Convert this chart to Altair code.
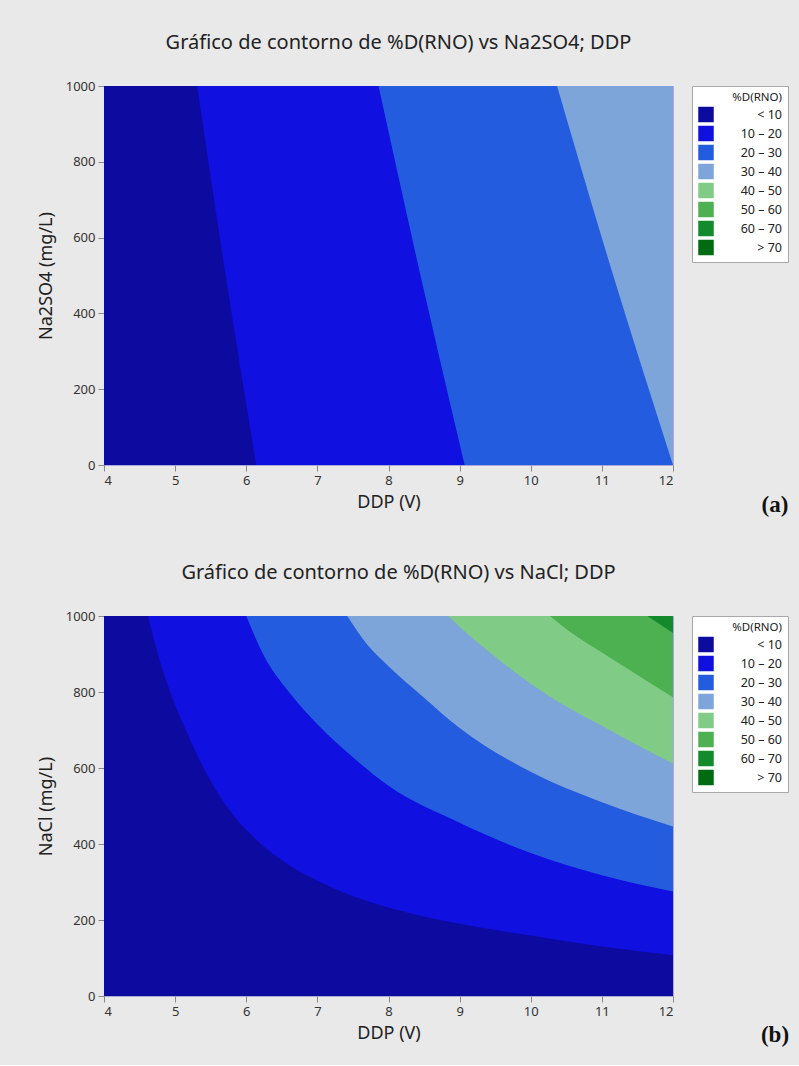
import altair as alt
import pandas as pd

BANDS = ["< 10", "10 – 20", "20 – 30", "30 – 40", "40 – 50", "50 – 60", "60 – 70", "> 70"]
COLORS = ["#0D0B9F", "#1010E0", "#245CE0", "#7EA5D9", "#80CC87", "#4DB051", "#138B2D", "#016B14"]

X_TICKS = [4, 5, 6, 7, 8, 9, 10, 11, 12]
Y_TICKS = [0, 200, 400, 600, 800, 1000]
X_DOMAIN = [4, 12]
Y_DOMAIN = [0, 1000]

# (a) contour boundaries: DDP (x) at given Na2SO4 (y)
A_Y = [0, 500, 1000]
A_B10 = [6.14, 5.71, 5.31]
A_B20 = [9.07, 8.45, 7.86]
A_B30 = [12.0, 11.16, 10.37]

# (b) contour boundaries: NaCl (y) at given DDP (x)
B10_X = [4.62, 4.75, 4.93, 5.15, 5.40, 5.72, 6.15, 6.6, 7.12, 8.05, 9, 10, 11, 12]
B10_Y = [1000, 905, 800, 700, 600, 500, 410, 345, 293, 230, 190, 159, 130, 107]
B20_X = [6.0, 6.25, 6.6, 7.0, 7.5, 8.0, 9, 10, 11, 12]
B20_Y = [1000, 895, 800, 715, 628, 553, 456, 376, 318, 275]
B30_X = [7.42, 7.7, 8.0, 8.5, 9, 10, 11, 12]
B30_Y = [1000, 925, 868, 785, 705, 590, 510, 446]
B40_X = [8.84, 9.0, 9.5, 10, 10.5, 11, 11.5, 12]
B40_Y = [1000, 972, 893, 822, 762, 711, 660, 612]
B50_X = [10.27, 10.6, 11, 11.5, 12]
B50_Y = [1000, 952, 904, 845, 786]
B60_X = [11.64, 12]
B60_Y = [1000, 955]

FONT = "Noto Sans"
PW, PH = 569, 380

color_scale = alt.Scale(domain=BANDS, range=COLORS)


def legend():
    return alt.Legend(
        title="%D(RNO)\u2007", titleFontSize=11.5, titleFont=FONT, titleFontWeight="normal",
        titleColor="#222222", titleAlign="right", titleAnchor="end", titlePadding=3,
        labelFont=FONT, labelFontSize=12.5, labelColor="#222222", labelAlign="right",
        labelExpr="datum.label + '\u2007'",
        labelOffset=68, symbolType="square", symbolSize=240, symbolStrokeWidth=0,
        symbolOpacity=1, fillColor="white", strokeColor="#A8A8A8", padding=6,
        rowPadding=3, offset=19, orient="right",
    )


def xenc(field="x"):
    return alt.X(f"{field}:Q", stack=None,
                 scale=alt.Scale(domain=X_DOMAIN, nice=False, zero=False),
                 axis=alt.Axis(values=X_TICKS, format="d", title="DDP (V)"))


def yenc(title, field="y"):
    return alt.Y(f"{field}:Q", stack=None,
                 scale=alt.Scale(domain=Y_DOMAIN, nice=False),
                 axis=alt.Axis(values=Y_TICKS, format="d", title=title))


def cenc():
    return alt.Color("band:N", scale=color_scale, legend=legend())


def base_rect(ytitle):
    df = pd.DataFrame({"x": [X_DOMAIN[0]], "x2": [X_DOMAIN[1]], "y": [Y_DOMAIN[0]],
                       "y2": [Y_DOMAIN[1]], "band": [BANDS[0]]})
    return alt.Chart(df).mark_rect().encode(
        x=xenc(), x2="x2:Q", y=yenc(ytitle), y2="y2:Q", color=cenc())


def a_layer(band, xs, ytitle):
    df = pd.DataFrame({"y": A_Y, "x": xs, "x2": [X_DOMAIN[1]] * len(A_Y), "band": band})
    return alt.Chart(df).mark_area(orient="horizontal", interpolate="monotone", clip=True).encode(
        y=yenc(ytitle), x=xenc(), x2="x2:Q", color=cenc())


def b_layer(band, xs, ys, ytitle):
    df = pd.DataFrame({"x": xs, "y": ys, "y2": [Y_DOMAIN[1]] * len(xs), "band": band})
    return alt.Chart(df).mark_area(orient="vertical", interpolate="monotone", clip=True).encode(
        x=xenc(), y=yenc(ytitle), y2="y2:Q", color=cenc())


def tag(label):
    return alt.Chart(pd.DataFrame({"t": [label]})).mark_text(
        font="Liberation Serif", fontWeight="bold", fontSize=23, color="#111111",
        align="center", baseline="middle").encode(
        text="t:N", x=alt.value(PW + 102), y=alt.value(PH + 39))


def title(txt):
    return alt.TitleParams(txt, fontSize=20, font=FONT, fontWeight="normal",
                           color="#222222", anchor="middle", frame="group",
                           dx=10, offset=27)


ya = "Na2SO4 (mg/L)"
chart_a = alt.layer(
    base_rect(ya),
    a_layer(BANDS[1], A_B10, ya),
    a_layer(BANDS[2], A_B20, ya),
    a_layer(BANDS[3], A_B30, ya),
    tag("(a)"),
).properties(width=PW, height=PH - 1,
             title=title("Gráfico de contorno de %D(RNO) vs Na2SO4; DDP"))

yb = "NaCl (mg/L)"
chart_b = alt.layer(
    base_rect(yb),
    b_layer(BANDS[1], B10_X, B10_Y, yb),
    b_layer(BANDS[2], B20_X, B20_Y, yb),
    b_layer(BANDS[3], B30_X, B30_Y, yb),
    b_layer(BANDS[4], B40_X, B40_Y, yb),
    b_layer(BANDS[5], B50_X, B50_Y, yb),
    b_layer(BANDS[6], B60_X, B60_Y, yb),
    tag("(b)"),
).properties(width=PW, height=PH,
             title=title("Gráfico de contorno de %D(RNO) vs NaCl; DDP"))

chart = alt.vconcat(chart_a, chart_b, spacing=44).resolve_scale(
    color="independent"
).properties(
    background="#E9E9E9",
    padding={"left": 36, "top": 32, "right": 9, "bottom": 17},
).configure_view(
    stroke="#A9A9D6", strokeWidth=1
).configure_axis(
    labelFont=FONT, labelFontSize=13, labelColor="#333333",
    titleFont=FONT, titleFontSize=18, titleFontWeight="normal", titleColor="#222222",
    tickColor="#888888", tickSize=6, labelPadding=3, domain=False, grid=False,
).configure_axisY(titlePadding=10).configure_axisX(titlePadding=6)

chart.save("out.html", embed_options={"renderer": "svg", "actions": False})
